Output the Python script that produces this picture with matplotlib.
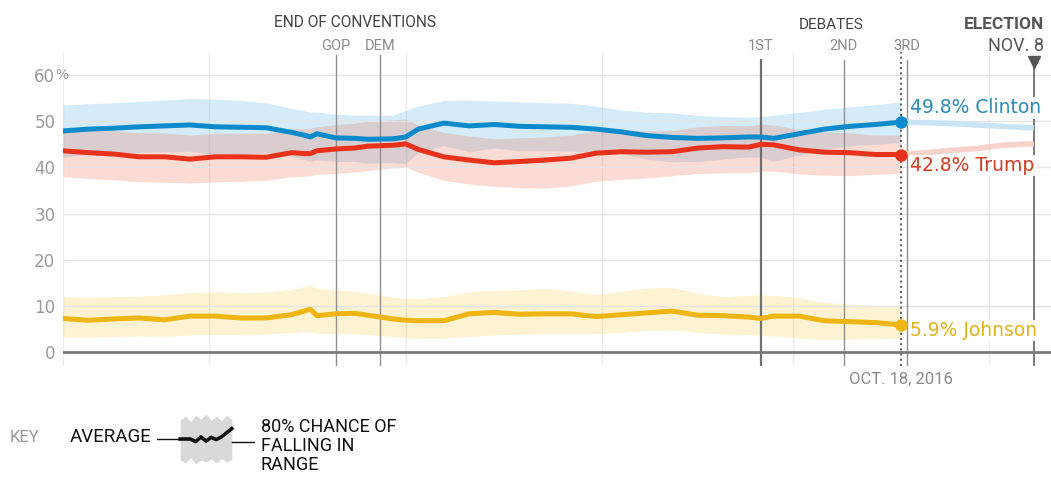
import numpy as np
import matplotlib
matplotlib.use("Agg")
import matplotlib.pyplot as plt
import matplotlib.dates as mdates
import matplotlib.transforms as mtransforms

# ---- data ----
start = np.datetime64("2016-06-08")
days = [0, 4, 8, 12, 16, 20, 24, 28, 32, 36, 38, 39, 40, 43, 46, 48, 52, 54, 56,
        60, 64, 68, 72, 76, 80, 84, 88, 92, 96, 100, 104, 108, 110, 112, 116,
        120, 124, 128, 132]

clinton = [47.9, 48.3, 48.5, 48.8, 49.0, 49.2, 48.8, 48.7, 48.6, 47.6, 47.0, 46.6, 47.3,
           46.4, 46.3, 46.1, 46.2, 46.6, 48.3, 49.6, 49.0, 49.3, 48.9, 48.8, 48.7,
           48.3, 47.7, 46.9, 46.5, 46.3, 46.4, 46.6, 46.6, 46.3, 47.3, 48.3, 48.9,
           49.3, 49.8]
clinton_hi = [53.5, 53.8, 54.0, 54.3, 54.6, 54.9, 54.8, 54.5, 54.0, 52.8, 52.3, 52.0, 52.0,
              51.5, 51.3, 51.3, 51.3, 52.4, 53.3, 54.5, 54.6, 54.4, 54.2, 54.0, 53.9,
              53.3, 52.4, 52.0, 51.8, 51.3, 51.0, 50.9, 51.0, 51.3, 51.9, 52.6, 53.1,
              53.6, 54.2]
clinton_lo = [42.3, 42.8, 43.0, 43.3, 43.4, 43.5, 42.8, 42.9, 43.2, 42.4, 41.7, 41.3, 41.6,
              41.3, 41.3, 40.9, 41.1, 40.8, 43.3, 44.7, 43.4, 44.2, 43.6, 43.6, 43.5,
              43.3, 43.0, 41.8, 41.2, 41.3, 41.8, 42.3, 42.2, 41.3, 42.7, 44.0, 44.7,
              45.0, 45.4]

trump = [43.6, 43.2, 42.9, 42.3, 42.3, 41.8, 42.3, 42.3, 42.2, 43.2, 43.0, 43.0, 43.6,
         44.0, 44.2, 44.6, 44.8, 45.1, 43.9, 42.3, 41.6, 41.0, 41.3, 41.6, 42.0,
         43.1, 43.4, 43.3, 43.4, 44.2, 44.5, 44.4, 45.0, 44.9, 43.8, 43.3, 43.2,
         42.8, 42.8]
trump_hi = [48.6, 48.3, 48.0, 47.5, 47.5, 47.0, 47.4, 47.4, 47.4, 48.4, 48.4, 48.5, 48.8,
            49.3, 49.6, 50.0, 50.3, 50.5, 49.2, 47.6, 46.8, 46.2, 46.4, 46.6, 47.0,
            47.9, 48.0, 47.9, 48.0, 48.8, 49.1, 49.0, 49.4, 49.2, 48.2, 47.7, 47.5,
            47.0, 47.0]
trump_lo = [38.0, 37.6, 37.3, 36.9, 36.8, 36.6, 36.9, 37.0, 37.2, 38.0, 38.1, 38.2, 38.5,
            38.7, 39.0, 39.3, 39.9, 40.1, 38.9, 37.2, 36.4, 35.9, 35.6, 35.5, 36.0,
            37.0, 37.4, 37.7, 38.2, 38.7, 38.8, 38.8, 39.2, 39.2, 38.6, 38.3, 38.2,
            38.5, 38.8]

johnson = [7.3, 6.9, 7.2, 7.4, 7.0, 7.8, 7.8, 7.4, 7.4, 8.1, 8.9, 9.3, 7.9,
           8.3, 8.4, 8.0, 7.2, 6.9, 6.8, 6.8, 8.3, 8.6, 8.2, 8.3, 8.3,
           7.7, 8.1, 8.5, 8.9, 8.0, 7.9, 7.6, 7.3, 7.8, 7.8, 6.8, 6.6,
           6.4, 5.9]
johnson_hi = [12.0, 11.9, 12.0, 12.2, 12.4, 12.9, 13.1, 12.9, 13.0, 13.6, 14.2, 14.5, 13.8,
              13.4, 13.2, 12.8, 11.9, 11.6, 11.6, 12.0, 13.1, 13.4, 13.5, 13.8, 13.3,
              12.5, 13.2, 13.9, 14.0, 12.8, 12.0, 12.3, 12.4, 12.3, 11.8, 10.8, 10.4,
              10.2, 10.2]
johnson_lo = [3.3, 3.2, 3.4, 3.5, 3.4, 3.7, 3.8, 3.8, 3.9, 4.2, 4.4, 4.4, 4.1,
              4.0, 4.0, 3.8, 3.4, 3.1, 3.0, 3.0, 3.4, 3.7, 3.9, 4.0, 4.0,
              4.0, 4.3, 4.7, 4.8, 4.3, 3.9, 3.7, 3.6, 3.5, 3.0, 2.7, 2.8,
              2.9, 3.0]

# projection from today to election day
proj_days = [132, 136, 140, 144, 148, 152, 153]
clinton_proj = [49.8, 49.7, 49.5, 49.2, 48.9, 48.6, 48.6]
trump_proj = [42.8, 43.2, 43.7, 44.1, 44.8, 45.1, 45.0]

conventions = {"GOP": "2016-07-21", "DEM": "2016-07-28"}
debates = {"1ST": "2016-09-26", "2ND": "2016-10-09", "3RD": "2016-10-19"}
today = "2016-10-18"
election = "2016-11-08"
months = ["2016-06-08", "2016-07-01", "2016-08-01", "2016-09-01", "2016-10-01", "2016-11-01"]
yticks = [0, 10, 20, 30, 40, 50, 60]

# key swatch
key_x = [0, 1, 2, 3, 4, 5, 6, 7, 8, 9, 10]
key_avg = [0.0, 0.0, 0.0, -0.5, 0.4, -0.4, 0.3, -0.1, 0.4, 1.2, 2.0]
key_hi = [3.6, 4.4, 3.4, 4.6, 3.8, 4.8, 3.6, 4.4, 3.5, 4.6, 3.8]
key_lo = [-4.0, -4.6, -3.6, -4.8, -4.0, -4.4, -3.8, -4.6, -3.8, -4.4, -4.0]

C_BLUE, C_RED, C_YEL = "#0b8bcc", "#e8321b", "#efb512"

# ---- figure ----
W, H = 1051, 479
fig = plt.figure(figsize=(W / 100, H / 100), dpi=100)
ax = fig.add_axes([63 / W, 113 / H, 988 / W, 314 / H])

d = start + np.array(days, dtype="timedelta64[D]")
dp = start + np.array(proj_days, dtype="timedelta64[D]")
x0 = mdates.date2num(start)
ax.set_xlim(x0, x0 + 155.7)
ax.set_ylim(-3, 65)

for s in ax.spines.values():
    s.set_visible(False)

# grid
for m in months:
    ax.axvline(np.datetime64(m), color="#ececec", lw=1, zorder=0)
for yv in yticks[1:]:
    ax.axhline(yv, color="#e4e4e4", lw=1, zorder=2)
ax.axhline(0, color="#7a7a7a", lw=2, zorder=6)

# bands
ax.fill_between(d, clinton_lo, clinton_hi, color="#56b4e9", alpha=0.25, lw=0, zorder=1)
ax.fill_between(d, trump_lo, trump_hi, color="#f0603f", alpha=0.22, lw=0, zorder=1)
ax.fill_between(d, johnson_lo, johnson_hi, color="#f9d66b", alpha=0.3, lw=0, zorder=1)

# event lines
ev_top = 63.2
for name, dt in conventions.items():
    ax.plot([np.datetime64(dt)] * 2, [-3, 64.3], color="#8f8f8f", lw=1, zorder=3)
    ax.text(np.datetime64(dt), 66.3, name, ha="center", va="center",
            color="#8a8a8a", fontsize=10.5, family="Roboto")
for name, dt in debates.items():
    lw, col = (1.6, "#707070") if name == "1ST" else (1, "#8f8f8f")
    ax.plot([np.datetime64(dt)] * 2, [-3, ev_top], color=col, lw=lw, zorder=3)
    ax.text(np.datetime64(dt), 66.3, name, ha="center", va="center",
            color="#8a8a8a", fontsize=10.5, family="Roboto")
ax.plot([np.datetime64(election)] * 2, [-3, 62.5], color="#707070", lw=1.3, zorder=3)
ax.plot([np.datetime64(election)], [62.8], marker="v", ms=8, color="#555555",
        clip_on=False, zorder=7)
ax.axvline(np.datetime64(today), color="#666666", lw=1.5, ls=(0, (1, 1.5)), zorder=7)

ax.text(np.datetime64("2016-07-24"), 71.3, "END OF CONVENTIONS", ha="center", va="center",
        color="#444444", fontsize=11.2, family="Roboto")
ax.text(np.datetime64("2016-10-07"), 70.9, "DEBATES", ha="center", va="center",
        color="#444444", fontsize=11, family="Roboto")
ax.text(1044 / W, 71.0, "ELECTION", transform=mtransforms.blended_transform_factory(
    fig.transFigure, ax.transData), ha="right", va="center",
    color="#555555", fontsize=12.5, fontweight="bold", family="Roboto")
ax.text(1044 / W, 66.4, "NOV. 8", transform=mtransforms.blended_transform_factory(
    fig.transFigure, ax.transData), ha="right", va="center",
    color="#555555", fontsize=13, family="Roboto")
ax.text(np.datetime64(today), -5.9, "OCT. 18, 2016", ha="center", va="center",
        color="#8a8a8a", fontsize=12, family="Roboto")

# projection lines
ax.plot(dp, clinton_proj, color="#c9e4f4", lw=4, solid_capstyle="butt", zorder=3)
ax.plot(dp, trump_proj, color="#f7d2ca", lw=4, solid_capstyle="butt", zorder=3)

# averages
for vals, col in [(clinton, C_BLUE), (trump, C_RED), (johnson, C_YEL)]:
    ax.plot(d, vals, color=col, lw=3.6, solid_joinstyle="round", zorder=5)
    ax.plot(d[-1], vals[-1], "o", ms=9, mew=0, color=col, zorder=10)

# end labels
box = dict(facecolor="white", edgecolor="none", pad=1.0, alpha=0.9)
lab_x = np.datetime64(today) + np.timedelta64(36, "h")
for txt, yv, col in [("%.1f%% Clinton" % clinton[-1], 52.9, "#2a8bb7"),
                     ("%.1f%% Trump" % trump[-1], 40.4, "#d33a22"),
                     ("%.1f%% Johnson" % johnson[-1], 4.7, "#e2b21a")]:
    ax.text(lab_x, yv, txt, ha="left", va="center",
            color=col, fontsize=13.5, family="DejaVu Sans", bbox=box, zorder=9)

# y ticks
ax.set_xticks([])
ax.set_yticks(yticks)
ax.set_yticklabels([str(v) for v in yticks])
ax.tick_params(axis="y", length=0, pad=5.5, labelsize=12, labelcolor="#9a9a9a")
ax.annotate("%", xy=(0, 60), xycoords=("axes fraction", "data"), xytext=(-5.5, 0),
            textcoords="offset points", ha="left", va="center",
            color="#9a9a9a", fontsize=10)

# ---- key ----
fig.text(10 / W, 1 - 437 / H, "KEY", color="#9a9a9a", fontsize=12,
         family="Roboto", va="center", ha="left")
fig.text(70 / W, 1 - 437 / H, "AVERAGE", color="#111111", fontsize=13.5,
         family="Roboto", va="center", ha="left")
fig.text(261 / W, 1 - 418 / H, "80% CHANCE OF\nFALLING IN\nRANGE", color="#111111",
         fontsize=13, family="Roboto", va="top", ha="left", linespacing=1.08)
kax = fig.add_axes([157 / W, 1 - 465 / H, 98 / W, 52 / H])
kax.set_xlim(-4.5, 14.5)
kax.set_ylim(-5, 5)
kax.axis("off")
kax.fill_between(key_x, key_lo, key_hi, color="#d9d9d9", lw=0)
kax.plot(key_x, key_avg, color="#111111", lw=2.6)
kax.plot([-4.5, 0], [0, 0], color="#111111", lw=1)
kax.plot([10, 14.5], [-0.5, -0.5], color="#111111", lw=1)

fig.savefig("out.png", dpi=100, facecolor="white")
